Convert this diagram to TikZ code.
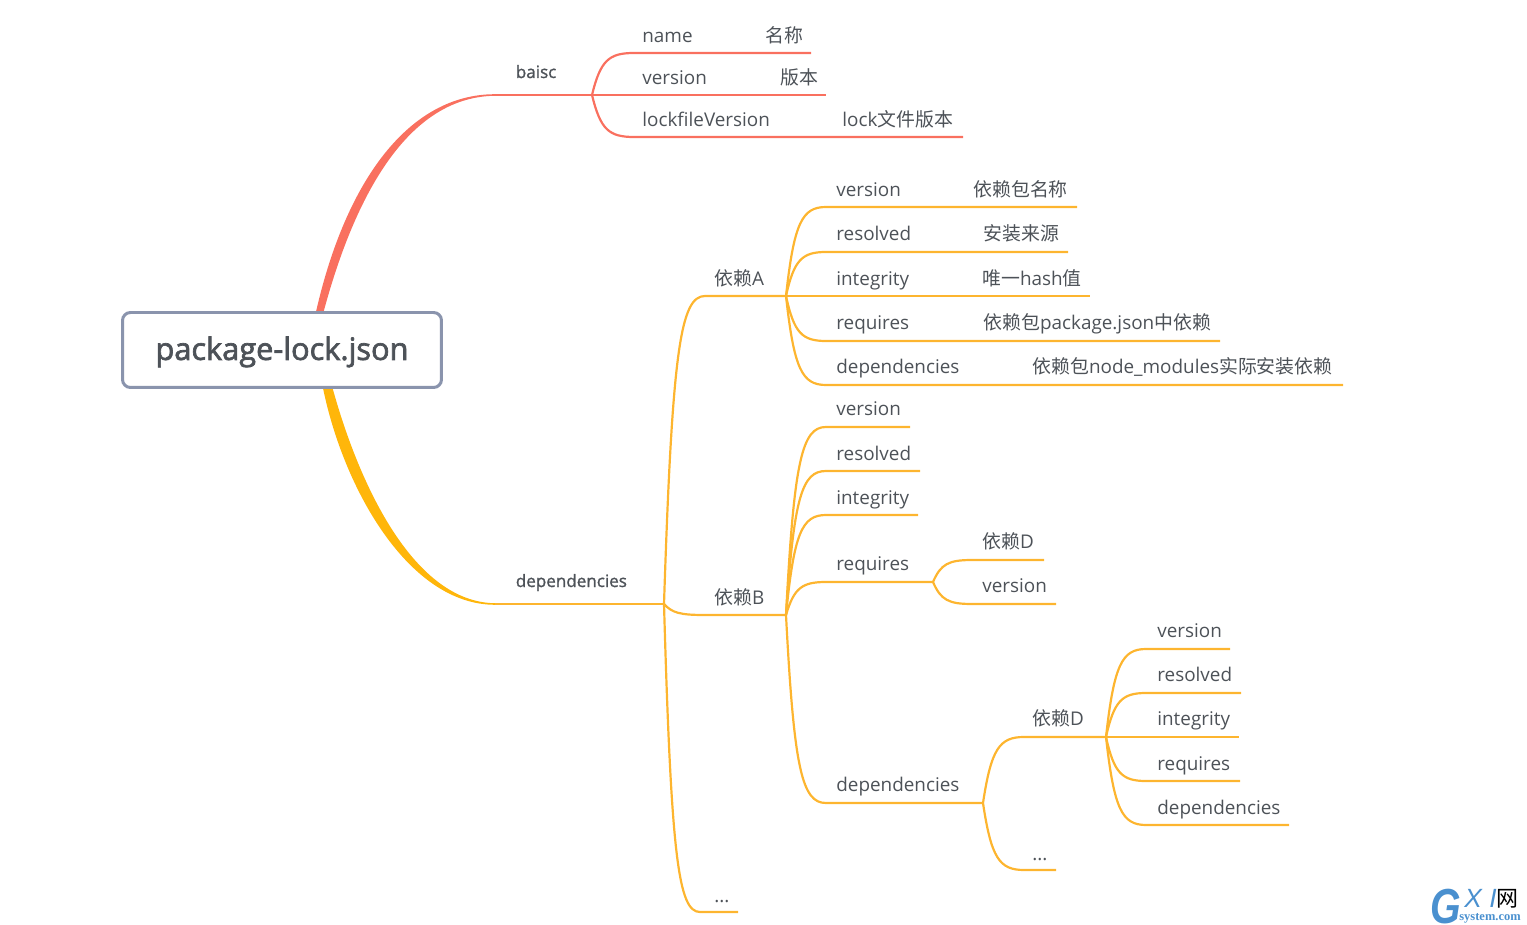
\documentclass[tikz,border=0pt]{standalone}
\usepackage{fontspec}
\setmainfont{Open Sans}
\newfontfamily\cjk{Noto Sans CJK SC}
\newfontfamily\semi[FakeBold=1.2]{Open Sans}
\newfontfamily\semiroot[FakeBold=2.2]{Open Sans}
\newfontfamily\markfont[FakeStretch=0.8]{Liberation Sans}
\newfontfamily\markthin{Liberation Sans}
\newfontfamily\marksmall{Liberation Serif}
\usepackage{xcolor}
\usetikzlibrary{positioning,backgrounds,calc}
\definecolor{redline}{HTML}{F9705F}
\definecolor{orangeline}{HTML}{FDB52F}
\definecolor{orangethick}{HTML}{FFB60A}
\definecolor{boxline}{HTML}{8A94AD}
\definecolor{inktext}{HTML}{4D5258}
\definecolor{markblue}{HTML}{4A90CF}

\begin{document}
\begin{tikzpicture}[
  x=0.02cm, y=-0.02cm,
  rootbox/.style={draw=boxline, fill=white, line width=1.7pt, rounded corners=4.5pt,
                  minimum width=6.38cm, minimum height=1.5cm, text height=14.5pt, text depth=3.2pt,
                  font=\fontsize{17.5}{20}\semiroot, text=inktext},
  topic/.style={anchor=base west, inner sep=0pt, font=\fontsize{9.7}{11}\semi, text=inktext},
  leaf/.style={anchor=base west, inner sep=0pt, font=\fontsize{10.75}{13}\selectfont, text=inktext},
  rel/.style={orangeline, line width=1.25pt},
  relred/.style={redline, line width=1.25pt},
  branch/.style={to path={let \p1=(\tikztostart), \p2=(\tikztotarget) in
    .. controls ({\x1+0.2*(\x2-\x1)},{\y1+0.82*(\y2-\y1)}) and ({\x1+0.4*(\x2-\x1)},\y2) .. (\tikztotarget)}}
]
\useasboundingbox (0,0) rectangle (1527,925);

% root
\node[rootbox] (root) at (282,350) {package-lock.json};

% thick branches
\coordinate (baiscS) at (495,95);
\coordinate (depsS) at (495,604);
\begin{scope}[on background layer]
\filldraw[redline, line width=0.9pt, line join=round] ([xshift=0.7cm]root.north) .. controls (347,180) and (410,95) .. (baiscS)
  .. controls (412,96) and (357,185) .. ([xshift=0.82cm]root.north) -- cycle;
\filldraw[orangethick, line width=0.9pt, line join=round] ([xshift=0.84cm]root.south) .. controls (345,490) and (410,604) .. (depsS)
  .. controls (415,603) and (360,490) .. ([xshift=1cm]root.south) -- cycle;
\end{scope}

% baisc
\coordinate (hubB) at (592,95);
\node[topic] (baisc) at (515.5,78) {baisc};
\draw[relred] (baiscS) -- (hubB);
\node[leaf] (bname) at (642,43) {name};
\node[leaf] (bnameV) at (765,43) {\cjk 名称};
\coordinate (bname1) at (634,53); \coordinate (bname2) at (811,53);
\draw[relred] (hubB) to[branch] (bname1) -- (bname2);
\node[leaf] (bver) at (642,85) {version};
\node[leaf] (bverV) at (780,85) {\cjk 版本};
\coordinate (bver2) at (826,95);
\draw[relred] (hubB) -- (bver2);
\node[leaf] (block) at (642,127) {lockfileVersion};
\node[leaf] (blockV) at (842,127) {lock{\cjk 文件版本}};
\coordinate (block1) at (634,137); \coordinate (block2) at (963,137);
\draw[relred] (hubB) to[branch] (block1) -- (block2);

% dependencies
\coordinate (hubD) at (664,604);
\node[topic] (deps) at (515.5,587) {dependencies};
\draw[rel] (depsS) -- (hubD);

% package A
\coordinate (hubA) at (786,296);
\coordinate (A1) at (705,296);
\node[leaf] (pkgA) at (714,286) {{\cjk 依赖}A};
\draw[rel] (hubD) to[branch] (A1) -- (hubA);
\node[leaf] (Aver) at (836,197) {version};
\node[leaf] (AverV) at (973,197) {\cjk 依赖包名称};
\coordinate (Aver1) at (826,207); \coordinate (Aver2) at (1077,207);
\draw[rel] (hubA) to[branch] (Aver1) -- (Aver2);
\node[leaf] (Ares) at (836,241) {resolved};
\node[leaf] (AresV) at (983,241) {\cjk 安装来源};
\coordinate (Ares1) at (826,252); \coordinate (Ares2) at (1068,252);
\draw[rel] (hubA) to[branch] (Ares1) -- (Ares2);
\node[leaf] (Aint) at (836,286) {integrity};
\node[leaf] (AintV) at (982,286) {{\cjk 唯一}hash{\cjk 值}};
\coordinate (Aint2) at (1090,296);
\draw[rel] (hubA) -- (Aint2);
\node[leaf] (Areq) at (836,330) {requires};
\node[leaf] (AreqV) at (983,330) {{\cjk 依赖包}package.json{\cjk 中依赖}};
\coordinate (Areq1) at (826,341); \coordinate (Areq2) at (1220,341);
\draw[rel] (hubA) to[branch] (Areq1) -- (Areq2);
\node[leaf] (Adep) at (836,374) {dependencies};
\node[leaf] (AdepV) at (1032,374) {{\cjk 依赖包}node\_modules{\cjk 实际安装依赖}};
\coordinate (Adep1) at (826,385); \coordinate (Adep2) at (1343,385);
\draw[rel] (hubA) to[branch] (Adep1) -- (Adep2);

% package B
\coordinate (hubP) at (786,615);
\coordinate (P1) at (705,615);
\node[leaf] (pkgB) at (714,604) {{\cjk 依赖}B};
\draw[rel] (hubD) to[branch] (P1) -- (hubP);
\node[leaf] (Pver) at (836,416) {version};
\coordinate (Pver1) at (826,427); \coordinate (Pver2) at (910,427);
\draw[rel] (hubP) to[branch] (Pver1) -- (Pver2);
\node[leaf] (Pres) at (836,460) {resolved};
\coordinate (Pres1) at (826,471); \coordinate (Pres2) at (920,471);
\draw[rel] (hubP) to[branch] (Pres1) -- (Pres2);
\node[leaf] (Pint) at (836,504) {integrity};
\coordinate (Pint1) at (826,515); \coordinate (Pint2) at (918,515);
\draw[rel] (hubP) to[branch] (Pint1) -- (Pint2);
\node[leaf] (Preq) at (836,570) {requires};
\coordinate (Preq1) at (826,582); \coordinate (hubR) at (933,582);
\draw[rel] (hubP) to[branch] (Preq1) -- (hubR);
\node[leaf] (Pdep) at (836,791) {dependencies};
\coordinate (Pdep1) at (826,803); \coordinate (hubQ) at (983,803);
\draw[rel] (hubP) to[branch] (Pdep1) -- (hubQ);

% requires of B
\node[leaf] (Rd) at (982,548) {{\cjk 依赖}D};
\coordinate (Rd1) at (972,560); \coordinate (Rd2) at (1044,560);
\draw[rel] (hubR) to[branch] (Rd1) -- (Rd2);
\node[leaf] (Rver) at (982,592) {version};
\coordinate (Rver1) at (972,604); \coordinate (Rver2) at (1056,604);
\draw[rel] (hubR) to[branch] (Rver1) -- (Rver2);

% dependencies of B
\coordinate (hubN) at (1106,737);
\coordinate (N1) at (1024,737);
\node[leaf] (pkgD) at (1032,725) {{\cjk 依赖}D};
\draw[rel] (hubQ) to[branch] (N1) -- (hubN);
\node[leaf] (Qmore) at (1032,860) {...};
\coordinate (Qmore1) at (1024,870); \coordinate (Qmore2) at (1056,870);
\draw[rel] (hubQ) to[branch] (Qmore1) -- (Qmore2);

% package D
\node[leaf] (Nver) at (1157,637) {version};
\coordinate (Nver1) at (1146,649); \coordinate (Nver2) at (1230,649);
\draw[rel] (hubN) to[branch] (Nver1) -- (Nver2);
\node[leaf] (Nres) at (1157,681) {resolved};
\coordinate (Nres1) at (1146,693); \coordinate (Nres2) at (1241,693);
\draw[rel] (hubN) to[branch] (Nres1) -- (Nres2);
\node[leaf] (Nint) at (1157,725) {integrity};
\coordinate (Nint2) at (1239,737);
\draw[rel] (hubN) -- (Nint2);
\node[leaf] (Nreq) at (1157,770) {requires};
\coordinate (Nreq1) at (1146,781); \coordinate (Nreq2) at (1240,781);
\draw[rel] (hubN) to[branch] (Nreq1) -- (Nreq2);
\node[leaf] (Ndep) at (1157,814) {dependencies};
\coordinate (Ndep1) at (1146,825); \coordinate (Ndep2) at (1289,825);
\draw[rel] (hubN) to[branch] (Ndep1) -- (Ndep2);

% more packages
\node[leaf] (more) at (714,902) {...};
\coordinate (more1) at (700,912); \coordinate (more2) at (738,912);
\draw[rel] (hubD) to[branch] (more1) -- (more2);

% watermark
\node[anchor=base west, inner sep=0pt, text=markblue, font=\fontsize{28}{30}\markfont\bfseries\itshape] (markG) at (1430,923) {G};
\node[anchor=base west, inner sep=0pt, text=markblue, font=\fontsize{15}{16}\markthin\itshape] (markXI) at (1464,907) {X I};
\node[anchor=base west, inner sep=0pt, text=black, font=\fontsize{12.5}{13}\cjk] (markW) at (1496,906) {网};
\node[anchor=base west, inner sep=0pt, text=markblue, font=\fontsize{7.1}{8}\marksmall\bfseries] (markS) at (1459,920) {system.com};
\end{tikzpicture}
\end{document}
